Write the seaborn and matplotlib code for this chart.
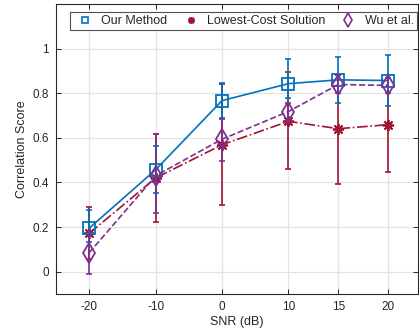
import numpy as np
import pandas as pd
import matplotlib
matplotlib.use("Agg")
import matplotlib.pyplot as plt
from matplotlib.lines import Line2D
import seaborn as sns

snr = [-20, -10, 0, 10, 15, 20]
series = ["Our Method", "Lowest-Cost Solution", "Wu et al."]

ours_mean = [0.195, 0.457, 0.767, 0.843, 0.860, 0.857]
ours_low = [0.135, 0.352, 0.690, 0.779, 0.757, 0.742]
ours_high = [0.275, 0.562, 0.845, 0.955, 0.963, 0.971]

lowest_mean = [0.172, 0.420, 0.569, 0.674, 0.641, 0.659]
lowest_low = [0.055, 0.222, 0.300, 0.460, 0.394, 0.447]
lowest_high = [0.290, 0.619, 0.842, 0.896, 0.880, 0.870]

wu_mean = [0.085, 0.430, 0.594, 0.718, 0.839, 0.835]
wu_low = [-0.010, 0.262, 0.497, 0.670, 0.800, 0.800]
wu_high = [0.180, 0.619, 0.686, 0.757, 0.880, 0.870]

yticks = [0, 0.2, 0.4, 0.6, 0.8, 1]
ytick_labels = ["0", "0.2", "0.4", "0.6", "0.8", "1"]

colors = {"Our Method": "#0072BD", "Lowest-Cost Solution": "#A2142F", "Wu et al.": "#7E2F8E"}
markers = {"Our Method": "s", "Lowest-Cost Solution": (8, 2, 0), "Wu et al.": "d"}
msizes = {"Our Method": 8.5, "Lowest-Cost Solution": 8, "Wu et al.": 10.5}
leg_msizes = {"Our Method": 5.0, "Lowest-Cost Solution": 5.0, "Wu et al.": 7.0}
lstyles = {"Our Method": "-", "Lowest-Cost Solution": "-.", "Wu et al.": "--"}

rows = []
for name, m, lo, hi in [("Our Method", ours_mean, ours_low, ours_high),
                        ("Lowest-Cost Solution", lowest_mean, lowest_low, lowest_high),
                        ("Wu et al.", wu_mean, wu_low, wu_high)]:
    for x, a, b, c in zip(snr, m, lo, hi):
        rows.append({"snr": x, "score": a, "low": b, "high": c, "method": name})
df = pd.DataFrame(rows)

sns.set_style("whitegrid")
plt.rcParams["font.family"] = ["Liberation Sans", "DejaVu Sans"]

fig = plt.figure(figsize=(4.19, 3.33), dpi=100)
ax = fig.add_axes([56 / 419, 1 - 294 / 333, 362 / 419, 290 / 333])


def fwd(x):
    x = np.asarray(x, dtype=float)
    return np.where(x <= 10, x, 10 + (x - 10) * 1.5)


def inv(y):
    y = np.asarray(y, dtype=float)
    return np.where(y <= 10, y, 10 + (y - 10) / 1.5)


ax.set_xscale("function", functions=(fwd, inv))

draw_order = ["Lowest-Cost Solution", "Our Method", "Wu et al."]
for z, name in enumerate(draw_order):
    sub = df[df["method"] == name]
    ax.errorbar(sub["snr"], sub["score"],
                yerr=[sub["score"] - sub["low"], sub["high"] - sub["score"]],
                fmt="none", ecolor=colors[name], elinewidth=1.2, capsize=2.5,
                capthick=1.2, zorder=3 + 2 * z)
    sns.lineplot(data=sub, x="snr", y="score", ax=ax, color=colors[name],
                 linestyle=lstyles[name], linewidth=1.2, marker=markers[name],
                 markersize=msizes[name], markerfacecolor="none",
                 markeredgecolor=colors[name], markeredgewidth=1.3,
                 zorder=4 + 2 * z, legend=False)

ax.set_xlim(-25, 23)
ax.set_ylim(-0.1, 1.2)
ax.set_xticks(snr)
ax.set_xticklabels([str(s) for s in snr])
ax.set_yticks(yticks)
ax.set_yticklabels(ytick_labels)

ax.grid(True, color="#e3e3e3", linewidth=0.9)
for sp in ax.spines.values():
    sp.set_visible(True)
    sp.set_color("#262626")
    sp.set_linewidth(0.8)
ax.tick_params(axis="both", which="both", direction="in", length=3.5, width=0.7,
               color="#262626", labelcolor="#262626", labelsize=8.5,
               top=True, right=True, left=True, bottom=True, pad=5)
ax.set_xlabel("SNR (dB)", fontsize=9, color="#262626", labelpad=2)
ax.set_ylabel("Correlation Score", fontsize=9, color="#262626", labelpad=3)

handles = [Line2D([], [], linestyle="none", marker=markers[n], markersize=leg_msizes[n],
                  markerfacecolor="none", markeredgecolor=colors[n], markeredgewidth=1.2)
           for n in series]
leg = ax.legend(handles, series, loc="upper right", bbox_to_anchor=(0.997, 0.973),
                ncol=3, frameon=True, fancybox=False, fontsize=9, borderaxespad=0,
                handlelength=2.0, handletextpad=0.3, columnspacing=0.85,
                borderpad=0.25)
leg.get_frame().set_edgecolor("#262626")
leg.get_frame().set_linewidth(0.8)
for t in leg.get_texts():
    t.set_color("#262626")

fig.savefig("out.png", dpi=100)
